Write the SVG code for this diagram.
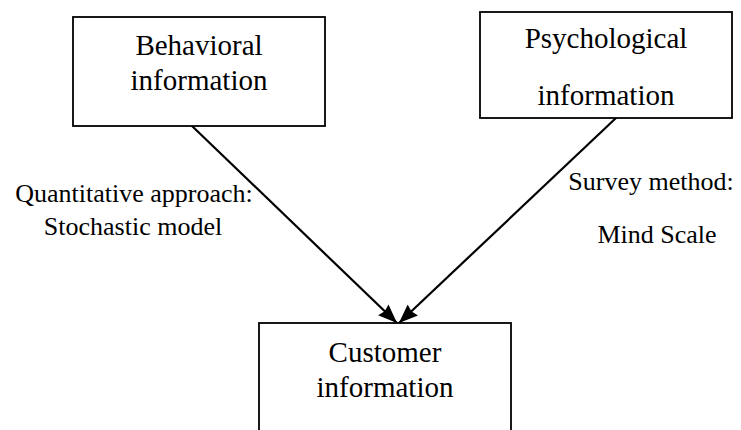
<svg xmlns="http://www.w3.org/2000/svg" width="741" height="430" viewBox="0 0 741 430">
<defs>
<marker id="ah" viewBox="0 0 19 15" refX="19" refY="7.5" markerWidth="19" markerHeight="15" markerUnits="userSpaceOnUse" orient="auto">
<path d="M0,0 L19,7.5 L0,15 L2,7.5 Z" fill="#000"/>
</marker>
<style>
.box{fill:#fff;stroke:#000;stroke-width:1.8}
.t{font-family:"Liberation Serif","Times New Roman",serif;font-size:29px;fill:#000;text-anchor:middle}
.l{font-family:"Liberation Serif","Times New Roman",serif;font-size:26px;fill:#000;text-anchor:middle}
.c{stroke:#000;stroke-width:2.2;fill:none}
</style>
</defs>
<rect width="741" height="430" fill="#fff"/>
<g id="connectors">
<line class="c" x1="192" y1="126" x2="397" y2="323" marker-end="url(#ah)"/>
<line class="c" x1="616" y1="118" x2="399" y2="323" marker-end="url(#ah)"/>
</g>
<g id="behavioral">
<rect class="box" x="73" y="17" width="252" height="109" stroke-width="2.2"/>
<text class="t" x="199" y="55">Behavioral</text>
<text class="t" x="199" y="90">information</text>
</g>
<g id="psychological">
<rect class="box" x="480" y="12" width="252" height="106"/>
<text class="t" x="606" y="48">Psychological</text>
<text class="t" x="606" y="105">information</text>
</g>
<g id="customer">
<rect class="box" x="259" y="323" width="252" height="120"/>
<text class="t" x="385" y="362">Customer</text>
<text class="t" x="385" y="397">information</text>
</g>
<g id="labels">
<text class="l" x="134" y="202">Quantitative approach:</text>
<text class="l" x="133" y="235">Stochastic model</text>
<text class="l" x="651" y="190">Survey method:</text>
<text class="l" x="657" y="243">Mind Scale</text>
</g>
</svg>
